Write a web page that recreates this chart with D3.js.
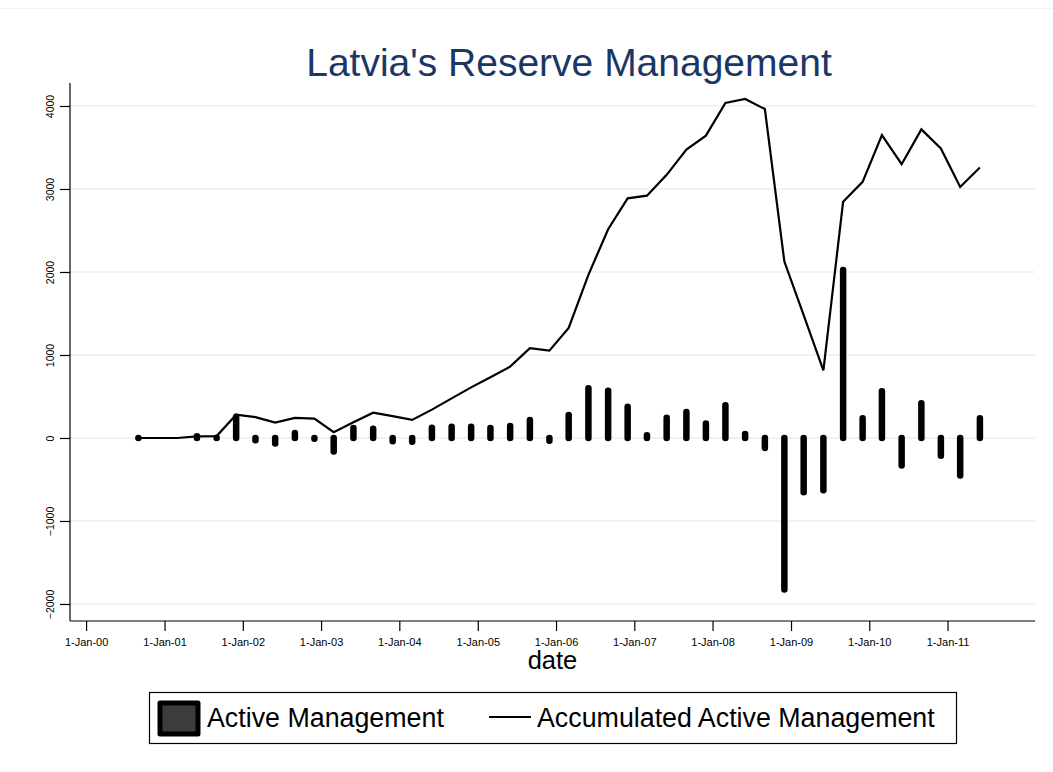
<!DOCTYPE html>
<html>
<head>
<meta charset="utf-8">
<script src="https://cdn.jsdelivr.net/npm/d3@7"></script>
<style>
  html, body { margin: 0; padding: 0; background: #ffffff; }
  svg { display: block; font-family: "Liberation Sans", Arial, sans-serif; }
</style>
</head>
<body>
<svg id="chart" width="1053" height="772"></svg>
<script>
// Quarterly observation dates (first day of Mar / Jun / Sep / Dec)
const dates = [
  "2000-09-01", "2000-12-01",
  "2001-03-01", "2001-06-01", "2001-09-01", "2001-12-01",
  "2002-03-01", "2002-06-01", "2002-09-01", "2002-12-01",
  "2003-03-01", "2003-06-01", "2003-09-01", "2003-12-01",
  "2004-03-01", "2004-06-01", "2004-09-01", "2004-12-01",
  "2005-03-01", "2005-06-01", "2005-09-01", "2005-12-01",
  "2006-03-01", "2006-06-01", "2006-09-01", "2006-12-01",
  "2007-03-01", "2007-06-01", "2007-09-01", "2007-12-01",
  "2008-03-01", "2008-06-01", "2008-09-01", "2008-12-01",
  "2009-03-01", "2009-06-01", "2009-09-01", "2009-12-01",
  "2010-03-01", "2010-06-01", "2010-09-01", "2010-12-01",
  "2011-03-01", "2011-06-01"
];

// Active management result per quarter (null = no observation)
const activeManagement = [
  0, null,
  null, 20, 3, 256,
  -28, -65, 60, -8,
  -162, 120, 112, -40,
  -45, 124, 135, 135,
  121, 144, 216, -32,
  277, 599, 568, 377,
  32, 245, 313, 175,
  393, 48, -120, -1826,
  -655, -631, 2025, 238,
  562, -331, 418, -215,
  -451, 238
];

// Accumulated active management
const accumulatedManagement = [
  0, 0,
  0, 20, 23, 280,
  252, 185, 242, 234,
  70, 190, 304, 263,
  218, 342, 477, 610,
  732, 860, 1083, 1053,
  1327, 1965, 2515, 2887,
  2919, 3170, 3474, 3643,
  4037, 4085, 3963, 2125,
  1480, 815, 2845, 3086,
  3649, 3299, 3718, 3488,
  3025, 3259
];

const yTicks = [-2000, -1000, 0, 1000, 2000, 3000, 4000];
const xTicks = [
  "2000-01-01", "2001-01-01", "2002-01-01", "2003-01-01", "2004-01-01", "2005-01-01",
  "2006-01-01", "2007-01-01", "2008-01-01", "2009-01-01", "2010-01-01", "2011-01-01"
];

const titleText = "Latvia's Reserve Management";
const xTitle = "date";
const legendLabels = ["Active Management", "Accumulated Active Management"];

// ---- layout ----
const svg = d3.select("#chart");
const W = 1053, H = 772;
const plot = { left: 70, right: 1035, top: 83, bottom: 621 };

const parse = d3.utcParse("%Y-%m-%d");
const dateVals = dates.map(parse);

const x = d3.scaleUtc()
  .domain([parse("1999-10-18"), parse("2012-02-13")])
  .range([plot.left, plot.right]);

const y = d3.scaleLinear()
  .domain([-2205, 4277])
  .range([plot.bottom, plot.top]);

svg.append("rect").attr("width", W).attr("height", H).attr("fill", "#ffffff");

// faint outer frame of the graph region
svg.append("line")
  .attr("x1", 0).attr("x2", W).attr("y1", 8.5).attr("y2", 8.5)
  .attr("stroke", "#f2f2f2").attr("stroke-width", 1);

// horizontal grid lines
svg.append("g")
  .selectAll("line")
  .data(yTicks)
  .join("line")
  .attr("x1", plot.left)
  .attr("x2", plot.right)
  .attr("y1", d => y(d))
  .attr("y2", d => y(d))
  .attr("stroke", "#e9f0f2")
  .attr("stroke-width", 1.6);

// y axis
const yAxis = svg.append("g")
  .attr("transform", `translate(${plot.left},0)`)
  .call(d3.axisLeft(y).tickValues(yTicks).tickSize(10).tickPadding(4).tickFormat(d3.format("d")));
yAxis.select(".domain").attr("stroke", "#000").attr("stroke-width", 1.2)
  .attr("d", `M0,${plot.top}V${plot.bottom}`);
yAxis.selectAll(".tick line").attr("stroke", "#000").attr("stroke-width", 1.2);
yAxis.selectAll(".tick text")
  .attr("font-size", 10.5)
  .attr("fill", "#000")
  .attr("text-anchor", "middle")
  .attr("transform", "translate(-20,0) rotate(-90)")
  .attr("x", 0)
  .attr("dy", "0.35em");

// x axis
const xAxis = svg.append("g")
  .attr("transform", `translate(0,${plot.bottom})`)
  .call(d3.axisBottom(x).tickValues(xTicks.map(parse)).tickSize(10).tickPadding(7)
    .tickFormat(d3.utcFormat("%-d-%b-%y")));
xAxis.select(".domain").attr("stroke", "#000").attr("stroke-width", 1.2)
  .attr("d", `M${plot.left},0H${plot.right}`);
xAxis.selectAll(".tick line").attr("stroke", "#000").attr("stroke-width", 1.2);
xAxis.selectAll(".tick text").attr("font-size", 11).attr("fill", "#000");

// bars: thick spikes with rounded ends from zero to the value
const barData = dateVals.map((d, i) => ({ date: d, v: activeManagement[i] }))
  .filter(d => d.v !== null);
svg.append("g")
  .selectAll("path")
  .data(barData)
  .join("path")
  .attr("d", d => `M${x(d.date)},${y(0)}V${y(d.v)}`)
  .attr("fill", "none")
  .attr("stroke", "#000")
  .attr("stroke-width", 6.5)
  .attr("stroke-linecap", "round");

// accumulated line
const line = d3.line()
  .x((d, i) => x(dateVals[i]))
  .y(d => y(d));
svg.append("path")
  .datum(accumulatedManagement)
  .attr("d", line)
  .attr("fill", "none")
  .attr("stroke", "#000")
  .attr("stroke-width", 2.2)
  .attr("stroke-linejoin", "miter");

// title
svg.append("text")
  .attr("x", 569)
  .attr("y", 76)
  .attr("text-anchor", "middle")
  .attr("font-size", 39)
  .attr("fill", "#1c3766")
  .text(titleText);

// x axis title
svg.append("text")
  .attr("x", (plot.left + plot.right) / 2)
  .attr("y", 669)
  .attr("text-anchor", "middle")
  .attr("font-size", 25.5)
  .attr("fill", "#000")
  .text(xTitle);

// legend
const lg = svg.append("g");
lg.append("rect")
  .attr("x", 149.5).attr("y", 692.5)
  .attr("width", 807).attr("height", 51)
  .attr("fill", "#fff").attr("stroke", "#000").attr("stroke-width", 1.2);
lg.append("rect")
  .attr("x", 160).attr("y", 703)
  .attr("width", 38).attr("height", 31)
  .attr("fill", "#3c3c3c").attr("stroke", "#000").attr("stroke-width", 5)
  .attr("stroke-linejoin", "round");
lg.append("text")
  .attr("x", 207).attr("y", 727)
  .attr("font-size", 26.8).attr("fill", "#000")
  .text(legendLabels[0]);
lg.append("line")
  .attr("x1", 489).attr("x2", 531)
  .attr("y1", 717).attr("y2", 717)
  .attr("stroke", "#000").attr("stroke-width", 2.2);
lg.append("text")
  .attr("x", 537).attr("y", 727)
  .attr("font-size", 26.8).attr("fill", "#000")
  .text(legendLabels[1]);
</script>
</body>
</html>
